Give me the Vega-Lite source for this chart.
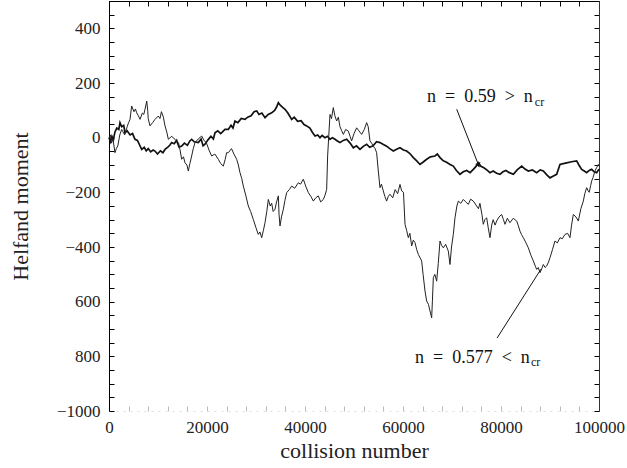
{
"$schema": "https://vega.github.io/schema/vega-lite/v6.json",
"width": 490, "height": 410,
"autosize": {"type": "none"},
"padding": {"left": 109, "top": 1, "right": 28, "bottom": 57},
"background": "white",
"config": {"view": {"stroke": null}, "font": "Liberation Serif",
 "axis": {"labelFont": "Liberation Serif", "titleFont": "Liberation Serif", "labelColor": "#222", "titleColor": "#222", "titleFontWeight": "normal", "labelFontSize": 16, "titleFontSize": 18, "domainColor": "#000", "tickColor": "#000", "grid": false, "labelOverlap": false}},
"datasets": {
 "a": [{"x":0,"y":0},{"x":300,"y":-15},{"x":600,"y":5},{"x":900,"y":-8},{"x":1200,"y":20},{"x":1600,"y":35},{"x":2000,"y":30},{"x":2245,"y":55},{"x":2600,"y":40},{"x":3000,"y":45},{"x":3265,"y":18},{"x":3700,"y":25},{"x":4300,"y":10},{"x":4800,"y":15},{"x":5306,"y":-6},{"x":5800,"y":-10},{"x":6200,"y":-25},{"x":6670,"y":-43},{"x":7200,"y":-35},{"x":7600,"y":-48},{"x":8000,"y":-40},{"x":8500,"y":-52},{"x":9000,"y":-45},{"x":9388,"y":-49},{"x":9900,"y":-60},{"x":10500,"y":-48},{"x":11000,"y":-55},{"x":11430,"y":-43},{"x":12000,"y":-35},{"x":12400,"y":-28},{"x":12790,"y":-18},{"x":13300,"y":-22},{"x":13800,"y":-10},{"x":14300,"y":-35},{"x":14830,"y":-31},{"x":15400,"y":-20},{"x":16000,"y":-28},{"x":16500,"y":-12},{"x":16870,"y":-6},{"x":17400,"y":-15},{"x":18230,"y":-18},{"x":18800,"y":-5},{"x":19200,"y":-30},{"x":19590,"y":-24},{"x":20200,"y":-8},{"x":20800,"y":5},{"x":21300,"y":-5},{"x":21630,"y":18},{"x":22200,"y":25},{"x":22800,"y":15},{"x":23670,"y":30},{"x":24350,"y":30},{"x":24900,"y":45},{"x":25300,"y":35},{"x":25710,"y":61},{"x":26300,"y":55},{"x":27000,"y":70},{"x":27750,"y":67},{"x":28300,"y":75},{"x":29000,"y":80},{"x":29600,"y":95},{"x":30140,"y":98},{"x":30600,"y":85},{"x":31200,"y":90},{"x":31840,"y":73},{"x":32500,"y":85},{"x":33200,"y":91},{"x":33800,"y":100},{"x":34200,"y":112},{"x":34560,"y":128},{"x":35000,"y":118},{"x":35500,"y":110},{"x":35920,"y":104},{"x":36500,"y":90},{"x":37280,"y":67},{"x":37800,"y":75},{"x":38500,"y":60},{"x":39200,"y":62},{"x":39800,"y":48},{"x":40340,"y":43},{"x":41000,"y":35},{"x":41500,"y":20},{"x":42040,"y":6},{"x":42600,"y":10},{"x":43060,"y":0},{"x":43500,"y":8},{"x":44080,"y":0},{"x":44600,"y":5},{"x":45100,"y":-6},{"x":45600,"y":0},{"x":46120,"y":-6},{"x":46600,"y":-12},{"x":47140,"y":-18},{"x":47800,"y":-10},{"x":48500,"y":-6},{"x":49200,"y":-20},{"x":49860,"y":-37},{"x":50500,"y":-30},{"x":51220,"y":-43},{"x":51900,"y":-32},{"x":52580,"y":-24},{"x":53200,"y":-35},{"x":53900,"y":-30},{"x":54600,"y":-15},{"x":55300,"y":-18},{"x":56000,"y":-25},{"x":56660,"y":-31},{"x":57300,"y":-40},{"x":58020,"y":-49},{"x":58700,"y":-42},{"x":59390,"y":-37},{"x":60100,"y":-45},{"x":60750,"y":-49},{"x":61400,"y":-58},{"x":62110,"y":-73},{"x":62800,"y":-85},{"x":63470,"y":-98},{"x":64200,"y":-88},{"x":64830,"y":-79},{"x":65600,"y":-70},{"x":66530,"y":-67},{"x":67000,"y":-60},{"x":67550,"y":-73},{"x":68230,"y":-85},{"x":68900,"y":-90},{"x":69600,"y":-98},{"x":70270,"y":-104},{"x":70900,"y":-120},{"x":71630,"y":-134},{"x":72300,"y":-125},{"x":73000,"y":-120},{"x":73700,"y":-128},{"x":74350,"y":-116},{"x":74900,"y":-105},{"x":75370,"y":-92},{"x":75900,"y":-105},{"x":76500,"y":-110},{"x":77100,"y":-118},{"x":77750,"y":-128},{"x":78400,"y":-122},{"x":79100,"y":-130},{"x":79790,"y":-134},{"x":80400,"y":-125},{"x":81000,"y":-120},{"x":81700,"y":-128},{"x":82520,"y":-134},{"x":83300,"y":-118},{"x":84220,"y":-104},{"x":84900,"y":-115},{"x":85580,"y":-122},{"x":86400,"y":-118},{"x":87280,"y":-128},{"x":88000,"y":-118},{"x":88640,"y":-122},{"x":89300,"y":-135},{"x":90000,"y":-147},{"x":90700,"y":-140},{"x":91360,"y":-134},{"x":92040,"y":-98},{"x":92700,"y":-95},{"x":93400,"y":-92},{"x":94400,"y":-88},{"x":95440,"y":-85},{"x":95900,"y":-100},{"x":96460,"y":-116},{"x":97000,"y":-122},{"x":97480,"y":-128},{"x":98000,"y":-120},{"x":98500,"y":-116},{"x":99000,"y":-125},{"x":99520,"y":-128},{"x":100000,"y":-115}],
 "b": [{"x":0,"y":0},{"x":300,"y":10},{"x":500,"y":-20},{"x":800,"y":-5},{"x":1224,"y":-55},{"x":1500,"y":-40},{"x":1800,"y":-30},{"x":2200,"y":10},{"x":2585,"y":30},{"x":3200,"y":10},{"x":3700,"y":40},{"x":4000,"y":55},{"x":4286,"y":67},{"x":4626,"y":116},{"x":5100,"y":95},{"x":5400,"y":105},{"x":5646,"y":91},{"x":6000,"y":80},{"x":6330,"y":67},{"x":6800,"y":90},{"x":7100,"y":85},{"x":7347,"y":104},{"x":7700,"y":134},{"x":7900,"y":100},{"x":8000,"y":70},{"x":8370,"y":43},{"x":8900,"y":55},{"x":9390,"y":67},{"x":10060,"y":79},{"x":10400,"y":70},{"x":10700,"y":95},{"x":11100,"y":75},{"x":11430,"y":43},{"x":11800,"y":20},{"x":12110,"y":-6},{"x":12800,"y":5},{"x":13470,"y":-6},{"x":14200,"y":-20},{"x":14500,"y":-45},{"x":14830,"y":-79},{"x":15200,"y":-70},{"x":15510,"y":-92},{"x":15900,"y":-100},{"x":16190,"y":-122},{"x":16500,"y":-95},{"x":16870,"y":-67},{"x":17200,"y":-40},{"x":17550,"y":-18},{"x":18200,"y":-5},{"x":18910,"y":6},{"x":19400,"y":-10},{"x":19900,"y":-20},{"x":20400,"y":-45},{"x":20950,"y":-67},{"x":21600,"y":-60},{"x":22310,"y":-79},{"x":22800,"y":-95},{"x":23330,"y":-104},{"x":23700,"y":-80},{"x":24010,"y":-55},{"x":24350,"y":-55},{"x":25000,"y":-40},{"x":25500,"y":-60},{"x":26050,"y":-79},{"x":26400,"y":-100},{"x":26730,"y":-128},{"x":27100,"y":-150},{"x":27410,"y":-177},{"x":27900,"y":-210},{"x":28430,"y":-250},{"x":28900,"y":-270},{"x":29450,"y":-299},{"x":30000,"y":-330},{"x":30470,"y":-354},{"x":30800,"y":-345},{"x":31160,"y":-366},{"x":31500,"y":-340},{"x":31840,"y":-311},{"x":32200,"y":-270},{"x":32520,"y":-226},{"x":32900,"y":-250},{"x":33200,"y":-240},{"x":33500,"y":-270},{"x":33880,"y":-262},{"x":34200,"y":-235},{"x":34560,"y":-213},{"x":34700,"y":-280},{"x":34900,"y":-323},{"x":35200,"y":-290},{"x":35580,"y":-262},{"x":35900,"y":-230},{"x":36260,"y":-201},{"x":36800,"y":-190},{"x":37280,"y":-177},{"x":37900,"y":-185},{"x":38640,"y":-165},{"x":39100,"y":-170},{"x":39660,"y":-152},{"x":40200,"y":-180},{"x":40680,"y":-201},{"x":41200,"y":-215},{"x":41700,"y":-232},{"x":42200,"y":-220},{"x":42720,"y":-213},{"x":43200,"y":-235},{"x":43740,"y":-226},{"x":44100,"y":-210},{"x":44420,"y":-189},{"x":44620,"y":-67},{"x":45100,"y":85},{"x":45400,"y":70},{"x":45780,"y":110},{"x":46100,"y":80},{"x":46460,"y":61},{"x":46800,"y":75},{"x":47140,"y":40},{"x":47500,"y":25},{"x":47820,"y":12},{"x":48300,"y":30},{"x":48840,"y":24},{"x":49200,"y":5},{"x":49520,"y":-12},{"x":50000,"y":15},{"x":50540,"y":36},{"x":51000,"y":25},{"x":51560,"y":12},{"x":52100,"y":30},{"x":52580,"y":55},{"x":52900,"y":40},{"x":53260,"y":-12},{"x":53600,"y":-20},{"x":53940,"y":-31},{"x":54300,"y":-40},{"x":54620,"y":-55},{"x":54960,"y":-122},{"x":55300,"y":-183},{"x":55600,"y":-170},{"x":55980,"y":-195},{"x":56300,"y":-215},{"x":56660,"y":-232},{"x":57000,"y":-215},{"x":57340,"y":-207},{"x":57900,"y":-220},{"x":58400,"y":-190},{"x":58900,"y":-205},{"x":59390,"y":-171},{"x":59730,"y":-195},{"x":60100,"y":-200},{"x":60410,"y":-317},{"x":60750,"y":-340},{"x":61090,"y":-366},{"x":61400,"y":-350},{"x":61770,"y":-396},{"x":62100,"y":-375},{"x":62450,"y":-384},{"x":62800,"y":-410},{"x":63130,"y":-427},{"x":63500,"y":-440},{"x":63810,"y":-451},{"x":64100,"y":-500},{"x":64490,"y":-561},{"x":64830,"y":-598},{"x":65200,"y":-610},{"x":65510,"y":-634},{"x":65850,"y":-659},{"x":66000,"y":-598},{"x":66190,"y":-512},{"x":66500,"y":-500},{"x":66870,"y":-525},{"x":67200,"y":-460},{"x":67550,"y":-378},{"x":67900,"y":-395},{"x":68230,"y":-403},{"x":68700,"y":-390},{"x":69250,"y":-415},{"x":69590,"y":-464},{"x":69900,"y":-400},{"x":70270,"y":-354},{"x":70610,"y":-293},{"x":71000,"y":-250},{"x":71290,"y":-232},{"x":71800,"y":-240},{"x":72310,"y":-226},{"x":72800,"y":-235},{"x":73330,"y":-244},{"x":73800,"y":-225},{"x":74350,"y":-232},{"x":75030,"y":-250},{"x":75400,"y":-260},{"x":75700,"y":-240},{"x":76100,"y":-280},{"x":76390,"y":-317},{"x":76700,"y":-300},{"x":77070,"y":-293},{"x":77400,"y":-330},{"x":77750,"y":-366},{"x":78100,"y":-320},{"x":78400,"y":-300},{"x":78800,"y":-320},{"x":79110,"y":-305},{"x":79600,"y":-290},{"x":80130,"y":-281},{"x":80500,"y":-300},{"x":80810,"y":-317},{"x":81300,"y":-295},{"x":81830,"y":-311},{"x":82500,"y":-295},{"x":83200,"y":-305},{"x":83500,"y":-320},{"x":83880,"y":-342},{"x":84200,"y":-355},{"x":84560,"y":-366},{"x":85100,"y":-385},{"x":85580,"y":-403},{"x":86100,"y":-430},{"x":86600,"y":-451},{"x":87000,"y":-470},{"x":87280,"y":-482},{"x":87600,"y":-475},{"x":87960,"y":-494},{"x":88300,"y":-480},{"x":88640,"y":-464},{"x":89000,"y":-475},{"x":89300,"y":-470},{"x":89700,"y":-455},{"x":90000,"y":-439},{"x":90500,"y":-410},{"x":91020,"y":-378},{"x":91500,"y":-385},{"x":92040,"y":-366},{"x":92500,"y":-370},{"x":93060,"y":-354},{"x":93600,"y":-350},{"x":94080,"y":-366},{"x":94400,"y":-320},{"x":94760,"y":-281},{"x":95300,"y":-290},{"x":95780,"y":-305},{"x":96300,"y":-260},{"x":96800,"y":-232},{"x":97100,"y":-205},{"x":97480,"y":-183},{"x":97800,"y":-195},{"x":98000,"y":-200},{"x":98300,"y":-175},{"x":98500,"y":-159},{"x":98800,"y":-145},{"x":99180,"y":-122},{"x":99500,"y":-110},{"x":99860,"y":-98},{"x":100000,"y":-105}],
 "arrows": [{"x":70960,"y":104,"x2":75370,"y2":-98},{"x":79200,"y":-733,"x2":88160,"y2":-481}],
 "heads": [{"x":75370,"y":-98,"angle":159}],
 "notes": [{"x":64900,"y":130,"t":"n\u2002=\u20020.59\u2002>\u2002n"},{"x":62450,"y":-824,"t":"n\u2002=\u20020.577\u2002<\u2002n"}],
 "subs": [{"x":86900,"y":116,"t":"cr"},{"x":86100,"y":-836,"t":"cr"}]
},
"layer": [
 {"data": {"name": "a"}, "mark": {"type": "line", "color": "#111", "strokeWidth": 1.7},
  "encoding": {
   "x": {"field": "x", "type": "quantitative", "scale": {"domain": [0, 100000], "nice": false, "zero": false},
     "axis": {"orient": "bottom", "title": "collision number", "values": [0,4000,8000,12000,16000,20000,24000,28000,32000,36000,40000,44000,48000,52000,56000,60000,64000,68000,72000,76000,80000,84000,88000,92000,96000,100000],
       "labelExpr": "datum.value % 20000 == 0 ? format(datum.value, 'd') : ''", "labelFlush": false, "labelFontSize": 17, "tickSize": -5, "tickColor": "#bbb", "domainColor": "#ddd", "domainDash": [2, 5], "labelPadding": 13, "titleFontSize": 22, "titlePadding": 5}},
   "y": {"field": "y", "type": "quantitative", "scale": {"domain": [-1000, 500], "nice": false, "zero": false},
     "axis": {"orient": "left", "title": "Helfand moment", "values": [-1000,-950,-900,-850,-800,-750,-700,-650,-600,-550,-500,-450,-400,-350,-300,-250,-200,-150,-100,-50,0,50,100,150,200,250,300,350,400,450,500],
       "labelExpr": "datum.value == -600 ? '600' : datum.value == -800 ? '800' : datum.value % 200 == 0 ? format(datum.value, 'd') : ''", "labelFontSize": 17, "tickSize": -5, "labelPadding": 14, "titleFontSize": 22, "titlePadding": 24}}
  }},
 {"data": {"name": "b"}, "mark": {"type": "line", "color": "#222", "strokeWidth": 1},
  "encoding": {
   "x": {"field": "x", "type": "quantitative",
     "axis": {"orient": "top", "title": null, "labels": false, "values": [0,4000,8000,12000,16000,20000,24000,28000,32000,36000,40000,44000,48000,52000,56000,60000,64000,68000,72000,76000,80000,84000,88000,92000,96000,100000], "tickSize": -5}},
   "y": {"field": "y", "type": "quantitative",
     "axis": {"orient": "right", "title": null, "labels": false, "values": [-1000,-950,-900,-850,-800,-750,-700,-650,-600,-550,-500,-450,-400,-350,-300,-250,-200,-150,-100,-50,0,50,100,150,200,250,300,350,400,450,500], "tickSize": -5, "domainColor": "#333"}}
  }},
 {"data": {"name": "arrows"}, "mark": {"type": "rule", "color": "#111", "strokeWidth": 1},
  "encoding": {"x": {"field": "x", "type": "quantitative", "axis": null}, "y": {"field": "y", "type": "quantitative", "axis": null}, "x2": {"field": "x2"}, "y2": {"field": "y2"}}},
 {"data": {"name": "heads"}, "mark": {"type": "point", "shape": "triangle", "filled": true, "color": "#111", "size": 30, "opacity": 1},
  "encoding": {"x": {"field": "x", "type": "quantitative", "axis": null}, "y": {"field": "y", "type": "quantitative", "axis": null}, "angle": {"field": "angle", "type": "quantitative", "scale": null}}},
 {"data": {"name": "notes"}, "mark": {"type": "text", "align": "left", "baseline": "alphabetic", "font": "Liberation Serif", "fontSize": 18, "color": "#111"},
  "encoding": {"x": {"field": "x", "type": "quantitative", "axis": null}, "y": {"field": "y", "type": "quantitative", "axis": null}, "text": {"field": "t"}}},
 {"data": {"name": "subs"}, "mark": {"type": "text", "align": "left", "baseline": "alphabetic", "font": "Liberation Serif", "fontSize": 12, "color": "#111"},
  "encoding": {"x": {"field": "x", "type": "quantitative", "axis": null}, "y": {"field": "y", "type": "quantitative", "axis": null}, "text": {"field": "t"}}}
],
"resolve": {"axis": {"x": "independent", "y": "independent"}}
}
